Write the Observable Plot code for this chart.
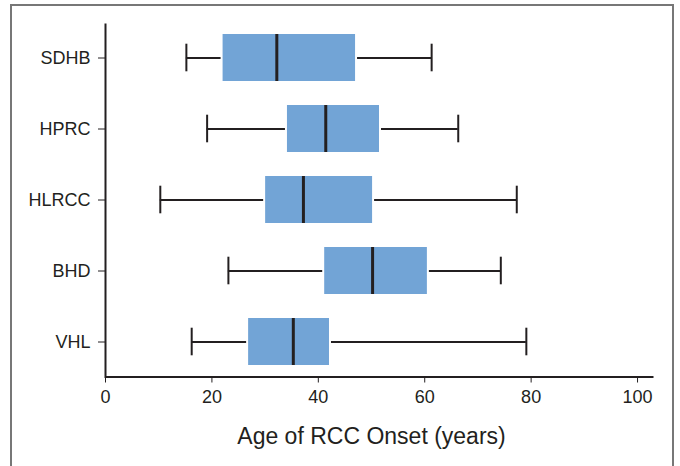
<!DOCTYPE html>
<html><head><meta charset="utf-8">
<script src="https://cdn.jsdelivr.net/npm/d3@7"></script>
<script src="https://cdn.jsdelivr.net/npm/@observablehq/plot@0.6"></script>
<style>
body{margin:0;background:#fff;}
#wrap{position:relative;width:680px;height:466px;overflow:hidden;background:#fff;}
#border{position:absolute;left:10px;top:4px;width:664px;height:490px;border:2px solid #777;box-sizing:border-box;}
#chart{position:absolute;left:0;top:0;}
</style></head><body>
<div id="wrap"><div id="border"></div><div id="chart"></div></div>
<script>
const syndromes = ["SDHB", "HPRC", "HLRCC", "BHD", "VHL"];
const minAge    = [15.2, 19.1, 10.3, 23.1, 16.2];
const q1Age     = [22.1, 34.2, 30.1, 41.2, 26.9];
const medianAge = [32.2, 41.4, 37.2, 50.2, 35.3];
const q3Age     = [47.0, 51.5, 50.2, 60.5, 42.1];
const maxAge    = [61.3, 66.3, 77.3, 74.3, 79.1];
const xTicks = [0, 20, 40, 60, 80, 100];
const xTitle = "Age of RCC Onset (years)";

const rows = syndromes.map((name, i) => ({
  name, min: minAge[i], q1: q1Age[i], median: medianAge[i], q3: q3Age[i], max: maxAge[i]
}));

const W = 680, H = 466, mL = 105, mR = 27, mT = 23, mB = 89.5;
const fw = W - mL - mR, fh = H - mT - mB;
const dark = "#231f20";
const boxFill = "#72a4d6";

const chart = Plot.plot({
  width: W, height: H,
  marginLeft: mL, marginRight: mR, marginTop: mT, marginBottom: mB,
  style: {fontFamily: "'Liberation Sans', Arial, sans-serif", fontSize: "18px", color: dark, background: "transparent", overflow: "visible"},
  x: {domain: [0, 103], ticks: xTicks, tickSize: 6, tickPadding: 7, label: null, tickFormat: d => String(d)},
  y: {domain: syndromes, paddingInner: 0.335, paddingOuter: 0.15, tickSize: 7, tickPadding: 8, label: null},
  marks: [
    Plot.ruleY(rows, {y: "name", x1: "min", x2: "max", stroke: dark, strokeWidth: 2}),
    Plot.tickX(rows, {x: "min", y: "name", stroke: dark, strokeWidth: 2, insetTop: 9.7, insetBottom: 9.7}),
    Plot.tickX(rows, {x: "max", y: "name", stroke: dark, strokeWidth: 2, insetTop: 9.7, insetBottom: 9.7}),
    Plot.barX(rows, {x1: "q1", x2: "q3", y: "name", fill: "white", insetLeft: -2, insetRight: -2}),
    Plot.barX(rows, {x1: "q1", x2: "q3", y: "name", fill: boxFill}),
    Plot.tickX(rows, {x: "median", y: "name", stroke: dark, strokeWidth: 3}),
    Plot.frame({stroke: dark, strokeWidth: 2, strokeDasharray: `0 ${fw + fh} ${fw + fh}`}),
    Plot.text([xTitle], {frameAnchor: "bottom", lineAnchor: "middle", dy: 60, dx: -8, fontSize: 23, fill: dark})
  ]
});
document.getElementById("chart").appendChild(chart);
</script>
</body></html>
